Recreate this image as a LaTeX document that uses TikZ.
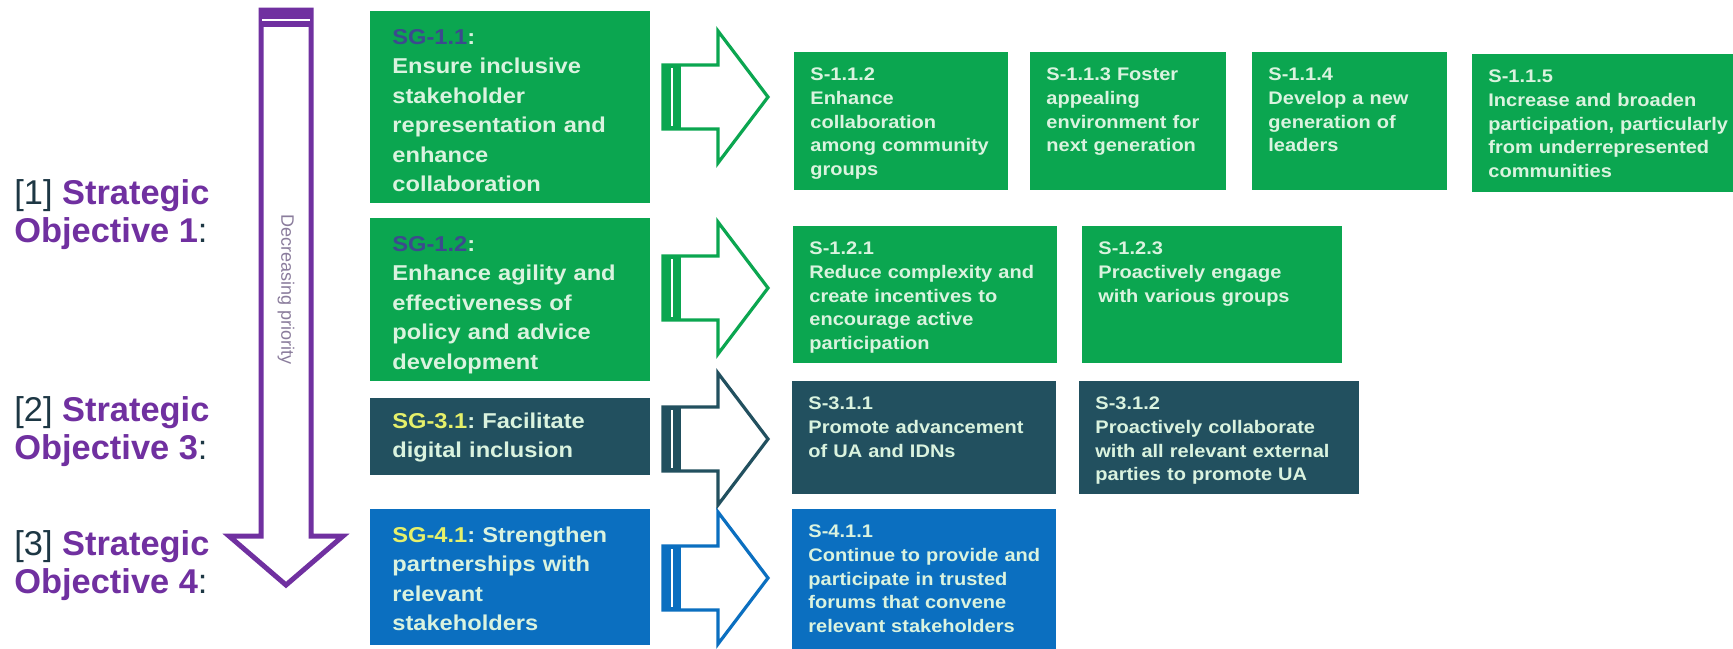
\documentclass[tikz,border=0pt]{standalone}
\usepackage{fontspec}
\setmainfont{Liberation Sans}
\newfontfamily\boxfont{Liberation Sans}[FakeStretch=1.1]
\frenchspacing
\usetikzlibrary{positioning}
\definecolor{ink}   {HTML}{1D3744}
\definecolor{plum}  {HTML}{7030A0}
\definecolor{leaf}  {HTML}{0BA650}
\definecolor{slate} {HTML}{22505F}
\definecolor{ocean} {HTML}{0B6FC0}
\definecolor{mist}  {HTML}{DAF3DF}
\definecolor{navy}  {HTML}{3C4A8E}
\definecolor{lime}  {HTML}{E6F06A}
\definecolor{dusk}  {HTML}{8A7C9C}
\tikzset{
  % --- nodes
  goal/.style  = {anchor=north west, inner xsep=11pt, inner ysep=0pt, text width=118pt,
                  align=left, text height=16.3pt, text=mist, fill=#1,
                  font=\boxfont\bfseries\fontsize{10.75}{14.75}\selectfont},
  strat/.style = {anchor=north west, inner xsep=8pt, inner ysep=0pt, align=left,
                  text height=14.25pt, text=mist, fill=#1,
                  font=\boxfont\bfseries\fontsize{9.1}{11.8}\selectfont},
  obj/.style   = {anchor=west, align=left, inner sep=0pt, text=ink,
                  font=\fontsize{17.2}{19}\selectfont},
  prio/.style  = {rotate=-90, inner sep=0pt, text=dusk, font=\fontsize{9}{10}\selectfont},
  % --- block arrows
  pics/push/.style = {code={
    \draw[line width=1.6pt, draw=#1, fill=white] (0,-32) -- (55,-32) -- (55,-66)
      -- (105,0) -- (55,66) -- (55,32) -- (0,32) -- cycle;
    \fill[#1] (0,-32) rectangle (18,32);
    \draw[white, line width=0.8pt] (9,-29) -- (9,29);
  }},
}

\begin{document}
\begin{tikzpicture}[x=0.5pt, y=-0.5pt]
  \useasboundingbox (0,0) rectangle (1733,648);
  \fill[white] (0,0) rectangle (1733,648);

  % priority arrow
  \draw[line width=2.5pt, draw=plum] (261,10) -- (311,10) -- (311,536) -- (343,536)
    -- (286,585) -- (229,536) -- (261,536) -- cycle;
  \fill[plum] (259,8) rectangle (313,27);
  \draw[white, line width=0.9pt] (262,20) -- (310,20);
  \node[prio] (prio) at (286,290) {Decreasing priority};

  % objectives
  \node[obj] (so1) at (14,215) {[1] \textbf{\textcolor{plum}{Strategic}}\\\textbf{\textcolor{plum}{Objective 1}}:};
  \node[obj] (so3) at (14,432) {[2] \textbf{\textcolor{plum}{Strategic}}\\\textbf{\textcolor{plum}{Objective 3}}:};
  \node[obj] (so4) at (14,566) {[3] \textbf{\textcolor{plum}{Strategic}}\\\textbf{\textcolor{plum}{Objective 4}}:};

  % goals
  \node[goal=leaf, text depth=79.7pt] (sg11) at (370,11)
    {\textcolor{navy}{SG-1.1}:\\Ensure inclusive\\stakeholder\\representation and\\enhance\\collaboration};
  \node[goal=leaf, text depth=65.2pt] (sg12) at (370,218)
    {\textcolor{navy}{SG-1.2}:\\Enhance agility and\\effectiveness of\\policy and advice\\development};
  \node[goal=slate, text height=15pt, text depth=23.5pt] (sg31) at (370,398)
    {\textcolor{lime}{SG-3.1}: Facilitate\\digital inclusion};
  \node[goal=ocean, text depth=51.7pt] (sg41) at (370,509)
    {\textcolor{lime}{SG-4.1}: Strengthen\\partnerships with\\relevant\\stakeholders};

  \pic at (663,97)  {push=leaf};
  \pic at (663,288) {push=leaf};
  \pic at (663,439) {push=slate};
  \pic at (663,578) {push=ocean};

  % strategies
  \node[strat=leaf, text width=91pt, text depth=54.75pt] (s112) at (794,52)
    {S-1.1.2\\Enhance\\collaboration\\among community\\groups};
  \node[strat=leaf, text width=82pt, text depth=54.75pt] (s113) at (1030,52)
    {S-1.1.3 Foster\\appealing\\environment for\\next generation};
  \node[strat=leaf, text width=81.5pt, text depth=54.75pt] (s114) at (1252,52)
    {S-1.1.4\\Develop a new\\generation of\\leaders};
  \node[strat=leaf, text width=124pt, text depth=54.75pt] (s115) at (1472,54)
    {S-1.1.5\\Increase and broaden\\participation, particularly\\from underrepresented\\communities};

  \node[strat=leaf, text width=116pt, text depth=54.25pt] (s121) at (793,226)
    {S-1.2.1\\Reduce complexity and\\create incentives to\\encourage active\\participation};
  \node[strat=leaf, text width=114pt, text depth=54.25pt] (s123) at (1082,226)
    {S-1.2.3\\Proactively engage\\with various groups};

  \node[strat=slate, text width=116pt, text depth=42.25pt] (s311) at (792,381)
    {S-3.1.1\\Promote advancement\\of UA and IDNs};
  \node[strat=slate, text width=124pt, text depth=42.25pt] (s312) at (1079,381)
    {S-3.1.2\\Proactively collaborate\\with all relevant external\\parties to promote UA};

  \node[strat=ocean, text width=116pt, text depth=56.25pt] (s411) at (792,509)
    {S-4.1.1\\Continue to provide and\\participate in trusted\\forums that convene\\relevant stakeholders};
\end{tikzpicture}
\end{document}
